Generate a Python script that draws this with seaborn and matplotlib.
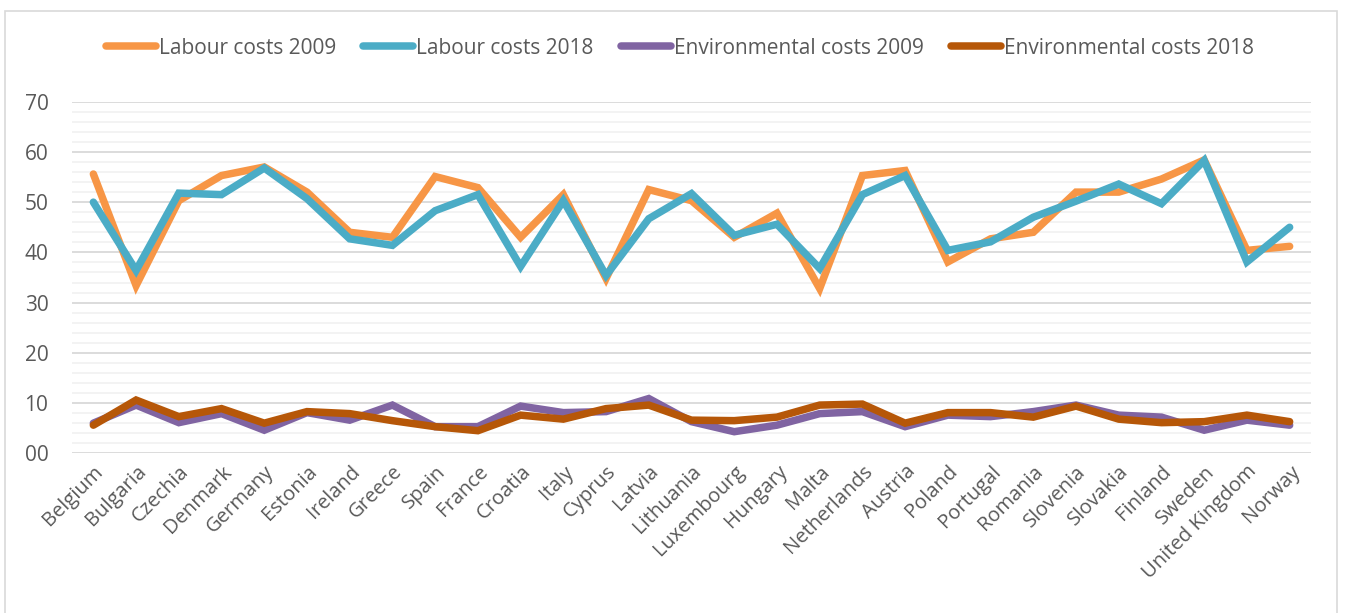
import matplotlib
matplotlib.use("Agg")
import matplotlib.pyplot as plt
import seaborn as sns
import pandas as pd
from matplotlib.patches import Rectangle
from matplotlib.ticker import MultipleLocator

countries = ["Belgium", "Bulgaria", "Czechia", "Denmark", "Germany", "Estonia", "Ireland",
             "Greece", "Spain", "France", "Croatia", "Italy", "Cyprus", "Latvia", "Lithuania",
             "Luxembourg", "Hungary", "Malta", "Netherlands", "Austria", "Poland", "Portugal",
             "Romania", "Slovenia", "Slovakia", "Finland", "Sweden", "United Kingdom", "Norway"]

labour_2009 = [55.6, 33.4, 50.3, 55.3, 57.0, 52.0, 44.0, 43.0, 55.1, 52.9,
               43.0, 51.5, 34.8, 52.5, 50.3, 43.0, 47.8, 32.8, 55.3, 56.3,
               38.1, 42.7, 44.0, 52.0, 52.0, 54.6, 58.4, 40.4, 41.2]
labour_2018 = [50.0, 36.4, 51.8, 51.5, 56.8, 50.7, 42.7, 41.4, 48.3, 51.5,
               37.2, 50.3, 35.4, 46.7, 51.7, 43.4, 45.6, 36.8, 51.5, 55.3,
               40.4, 42.1, 47.0, 50.2, 53.6, 49.7, 58.3, 38.1, 45.0]
env_2009 = [6.0, 9.6, 6.1, 7.9, 4.6, 8.1, 6.6, 9.6, 5.3, 5.3,
            9.4, 8.1, 8.3, 10.9, 6.3, 4.3, 5.6, 7.9, 8.3, 5.3,
            7.6, 7.3, 8.3, 9.6, 7.6, 7.2, 4.6, 6.6, 5.6]
env_2018 = [5.6, 10.6, 7.3, 8.9, 6.0, 8.3, 7.9, 6.5, 5.3, 4.5,
            7.6, 6.8, 8.9, 9.6, 6.6, 6.5, 7.2, 9.6, 9.8, 6.0,
            8.1, 8.1, 7.2, 9.4, 6.8, 6.1, 6.3, 7.6, 6.3]

series_names = ["Labour costs 2009", "Labour costs 2018",
                "Environmental costs 2009", "Environmental costs 2018"]
series_values = [labour_2009, labour_2018, env_2009, env_2018]
series_colors = ["#F79646", "#4BACC6", "#8064A2", "#B65708"]

y_ticks = [0, 10, 20, 30, 40, 50, 60, 70]
y_tick_labels = ["00", "10", "20", "30", "40", "50", "60", "70"]

sns.set_theme(style="white")
plt.rcParams["font.family"] = ["Open Sans", "DejaVu Sans"]

rows = []
for name, vals in zip(series_names, series_values):
    for i, (c, v) in enumerate(zip(countries, vals)):
        rows.append({"idx": i, "country": c, "value": v, "series": name})
df = pd.DataFrame(rows)

fig = plt.figure(figsize=(13.46, 6.13), dpi=100)
ax = fig.add_axes([72 / 1346, 159.7 / 613, (1311 - 72) / 1346, 351.6 / 613])

sns.lineplot(data=df, x="idx", y="value", hue="series", hue_order=series_names,
             palette=series_colors, linewidth=5.4, ax=ax, legend=False,
             solid_capstyle="round", solid_joinstyle="miter", zorder=3)

ax.set_xlim(-0.5, len(countries) - 0.5)
ax.set_ylim(0, 70)
ax.yaxis.set_minor_locator(MultipleLocator(2))
ax.grid(which="major", axis="y", color="#D9D9D9", linewidth=1.3, zorder=0)
ax.grid(which="minor", axis="y", color="#F0F0F0", linewidth=1.1, zorder=0)
ax.set_axisbelow(True)
for s in ax.spines.values():
    s.set_visible(False)

ax.set_yticks(y_ticks)
ax.set_yticklabels(y_tick_labels, fontsize=15, color="#595959")
ax.set_xticks(range(len(countries)))
ax.set_xticklabels(countries, rotation=45, ha="right", rotation_mode="anchor",
                   fontsize=14.5, color="#595959")
ax.tick_params(axis="y", which="both", length=0, pad=17)
ax.tick_params(axis="x", length=0, pad=6)
ax.set_xlabel("")
ax.set_ylabel("")

handles = [plt.Line2D([0], [0], color=c, linewidth=5.4, solid_capstyle="round")
           for c in series_colors]
fig.legend(handles, series_names, loc="center", ncol=4,
           bbox_to_anchor=(0.505, 1 - 48 / 613), frameon=False,
           fontsize=15, labelcolor="#595959", handlelength=2.4,
           handletextpad=0.15, columnspacing=1.3)

fig.patches.append(Rectangle((5 / 1346, -0.05), (1337 - 5) / 1346, 0.05 + 1 - 11 / 613,
                             transform=fig.transFigure, fill=False,
                             edgecolor="#D9D9D9", linewidth=1.2))

fig.savefig("out.png", dpi=100, facecolor="white")
